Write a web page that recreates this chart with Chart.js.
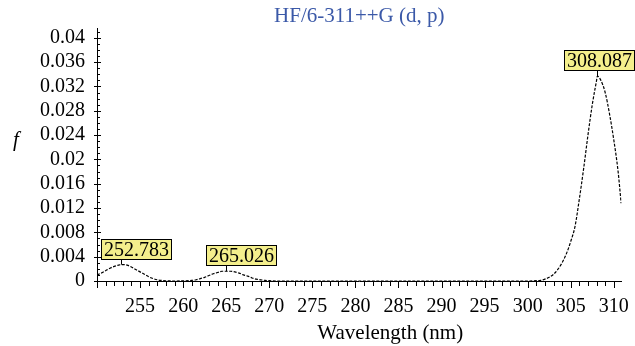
<!DOCTYPE html>
<html>
<head>
<meta charset="utf-8">
<script src="https://cdn.jsdelivr.net/npm/chart.js@4"></script>
<style>
  html, body { margin: 0; padding: 0; background: #fff; }
  #wrap { width: 635px; height: 346px; }
</style>
</head>
<body>
<div id="wrap"><canvas id="spectrum"></canvas></div>
<script>
// -- THE DATA --
const wavelengths = [250, 250.5, 251, 251.5, 252, 252.5, 252.783, 253, 253.5, 254, 254.5, 255, 255.5, 256, 256.5, 257, 257.5, 258, 259, 260,
  261, 261.5, 262, 262.5, 263, 263.5, 264, 264.5, 265.026, 265.5, 266, 266.5, 267, 267.5, 268, 268.5, 269, 269.5, 270, 271,
  300, 301, 301.5, 302, 302.5, 303, 303.5, 304, 304.5, 305, 305.5, 306, 306.5, 307, 307.5, 308, 308.087, 308.5, 309, 309.5, 310, 310.5, 310.85];
const fValues = [0.0010, 0.0013, 0.0017, 0.0021, 0.0024, 0.0026, 0.0027, 0.0027, 0.0026, 0.0023, 0.0019, 0.0015, 0.0011, 0.0007, 0.0004, 0.0002, 0.0001, 0.00004, 0, 0.00002,
  0.0001, 0.0002, 0.0004, 0.0006, 0.0009, 0.0012, 0.0014, 0.0016, 0.0016, 0.0016, 0.0015, 0.0013, 0.0010, 0.0008, 0.0005, 0.0003, 0.0002, 0.0001, 0.00005, 0,
  0, 0.00005, 0.0001, 0.0003, 0.0006, 0.0011, 0.0019, 0.0030, 0.0045, 0.0065, 0.0090, 0.0135, 0.0185, 0.0240, 0.0290, 0.0330, 0.0337, 0.0330, 0.0310, 0.0275, 0.0232, 0.0180, 0.0128];

const peakWavelengths = [252.783, 265.026, 308.087];
const peakValues = [0.0027, 0.0016, 0.0337];

const xTicks = [255, 260, 265, 270, 275, 280, 285, 290, 295, 300, 305, 310];
const yTicks = [0, 0.004, 0.008, 0.012, 0.016, 0.02, 0.024, 0.028, 0.032, 0.036, 0.04];

const serif = '"Liberation Serif", "DejaVu Serif", serif';
Chart.defaults.font.family = serif;
Chart.defaults.color = '#000';

// -- SMALL TICKS, AXIS TITLES AND PEAK BOXES --
const minorTicks = {
  id: 'minorTicks',
  afterDraw(chart) {
    const { ctx, scales: { x, y } } = chart;
    ctx.save();
    ctx.strokeStyle = '#000';
    ctx.lineWidth = 1;
    ctx.beginPath();
    for (let w = 250; w <= 310; w++) {
      const px = Math.round(x.getPixelForValue(w)) + 0.5;
      const len = w % 5 === 0 ? 7 : 5;
      ctx.moveTo(px, y.bottom);
      ctx.lineTo(px, y.bottom + len);
    }
    for (let k = 0; k <= 41; k++) {
      const py = Math.round(y.getPixelForValue(k / 1000)) + 0.5;
      const major = k % 4 === 0;
      ctx.moveTo(x.left - (major ? 3 : 0), py);
      ctx.lineTo(x.left + (major ? 4 : 3), py);
    }
    ctx.stroke();
    ctx.fillStyle = '#000';
    ctx.textAlign = 'center';
    ctx.textBaseline = 'middle';
    // the "f" beside the y axis, upright
    ctx.font = 'italic 21px ' + serif;
    ctx.fillText('f', 16, (y.top + y.bottom) / 2 - 14);
    // x axis title, sitting a little right of centre as in the original
    ctx.font = '21px ' + serif;
    ctx.fillText('Wavelength (nm)', (x.left + x.right) / 2 + 31, chart.height - 13);
    ctx.restore();
  }
};

const peakBoxes = {
  id: 'peakBoxes',
  afterDatasetsDraw(chart) {
    const { ctx, scales: { x, y } } = chart;
    ctx.save();
    ctx.font = '20px ' + serif;
    peakWavelengths.forEach((w, i) => {
      const px = Math.round(x.getPixelForValue(w)) + 0.5;
      const py = y.getPixelForValue(peakValues[i]);
      const text = w.toFixed(3);
      const bw = Math.round(ctx.measureText(text).width) + 5, bh = 20;
      const left = Math.round(Math.min(px - 21, chart.width - bw - 1)) + 0.5;
      const top = Math.round(py - 6 - bh) + 0.5;
      ctx.strokeStyle = '#000';
      ctx.lineWidth = 1;
      ctx.beginPath();
      ctx.moveTo(px, top + bh);
      ctx.lineTo(px, py);
      ctx.stroke();
      ctx.fillStyle = '#f4ef8c';
      ctx.fillRect(left, top, bw, bh);
      ctx.strokeRect(left, top, bw, bh);
      ctx.fillStyle = '#000';
      ctx.textBaseline = 'middle';
      ctx.fillText(text, left + 2.5, top + bh / 2 + 1);
    });
    ctx.restore();
  }
};

// -- THE CHART --
new Chart(document.getElementById('spectrum'), {
  type: 'line',
  data: {
    datasets: [{
      data: wavelengths.map((w, i) => ({ x: w, y: fValues[i] })),
      borderColor: '#000',
      borderWidth: 1.2,
      borderDash: [3, 1.5],
      pointRadius: 0,
      cubicInterpolationMode: 'monotone',
      fill: false
    }]
  },
  options: {
    responsive: true,
    maintainAspectRatio: false,
    animation: false,
    layout: { padding: { right: 10, top: 0 } },
    plugins: {
      legend: { display: false },
      tooltip: { enabled: false },
      title: {
        display: true,
        fullSize: false,
        text: 'HF/6-311++G (d, p)',
        color: '#3b59a8',
        font: { size: 21, weight: 'normal', lineHeight: 1.1 },
        padding: { top: 5, bottom: 0 }
      }
    },
    scales: {
      x: {
        type: 'linear',
        min: 250,
        max: 310.9,
        grid: { display: false },
        border: { display: true, color: '#000', width: 1 },
        afterBuildTicks: s => { s.ticks = xTicks.map(v => ({ value: v })); },
        afterFit: s => { s.height = 65; },
        ticks: { font: { size: 20 }, padding: 6, maxRotation: 0, autoSkip: false },
        title: { display: false }
      },
      y: {
        min: 0,
        max: 0.0416,
        grid: { display: false },
        border: { display: true, color: '#000', width: 1 },
        afterBuildTicks: s => { s.ticks = yTicks.map(v => ({ value: v })); },
        afterFit: s => { s.width = 97; },
        ticks: { font: { size: 20 }, padding: 4, autoSkip: false, callback: v => String(+v.toFixed(3)) },
        title: { display: false }
      }
    }
  },
  plugins: [minorTicks, peakBoxes]
});
</script>
</body>
</html>
